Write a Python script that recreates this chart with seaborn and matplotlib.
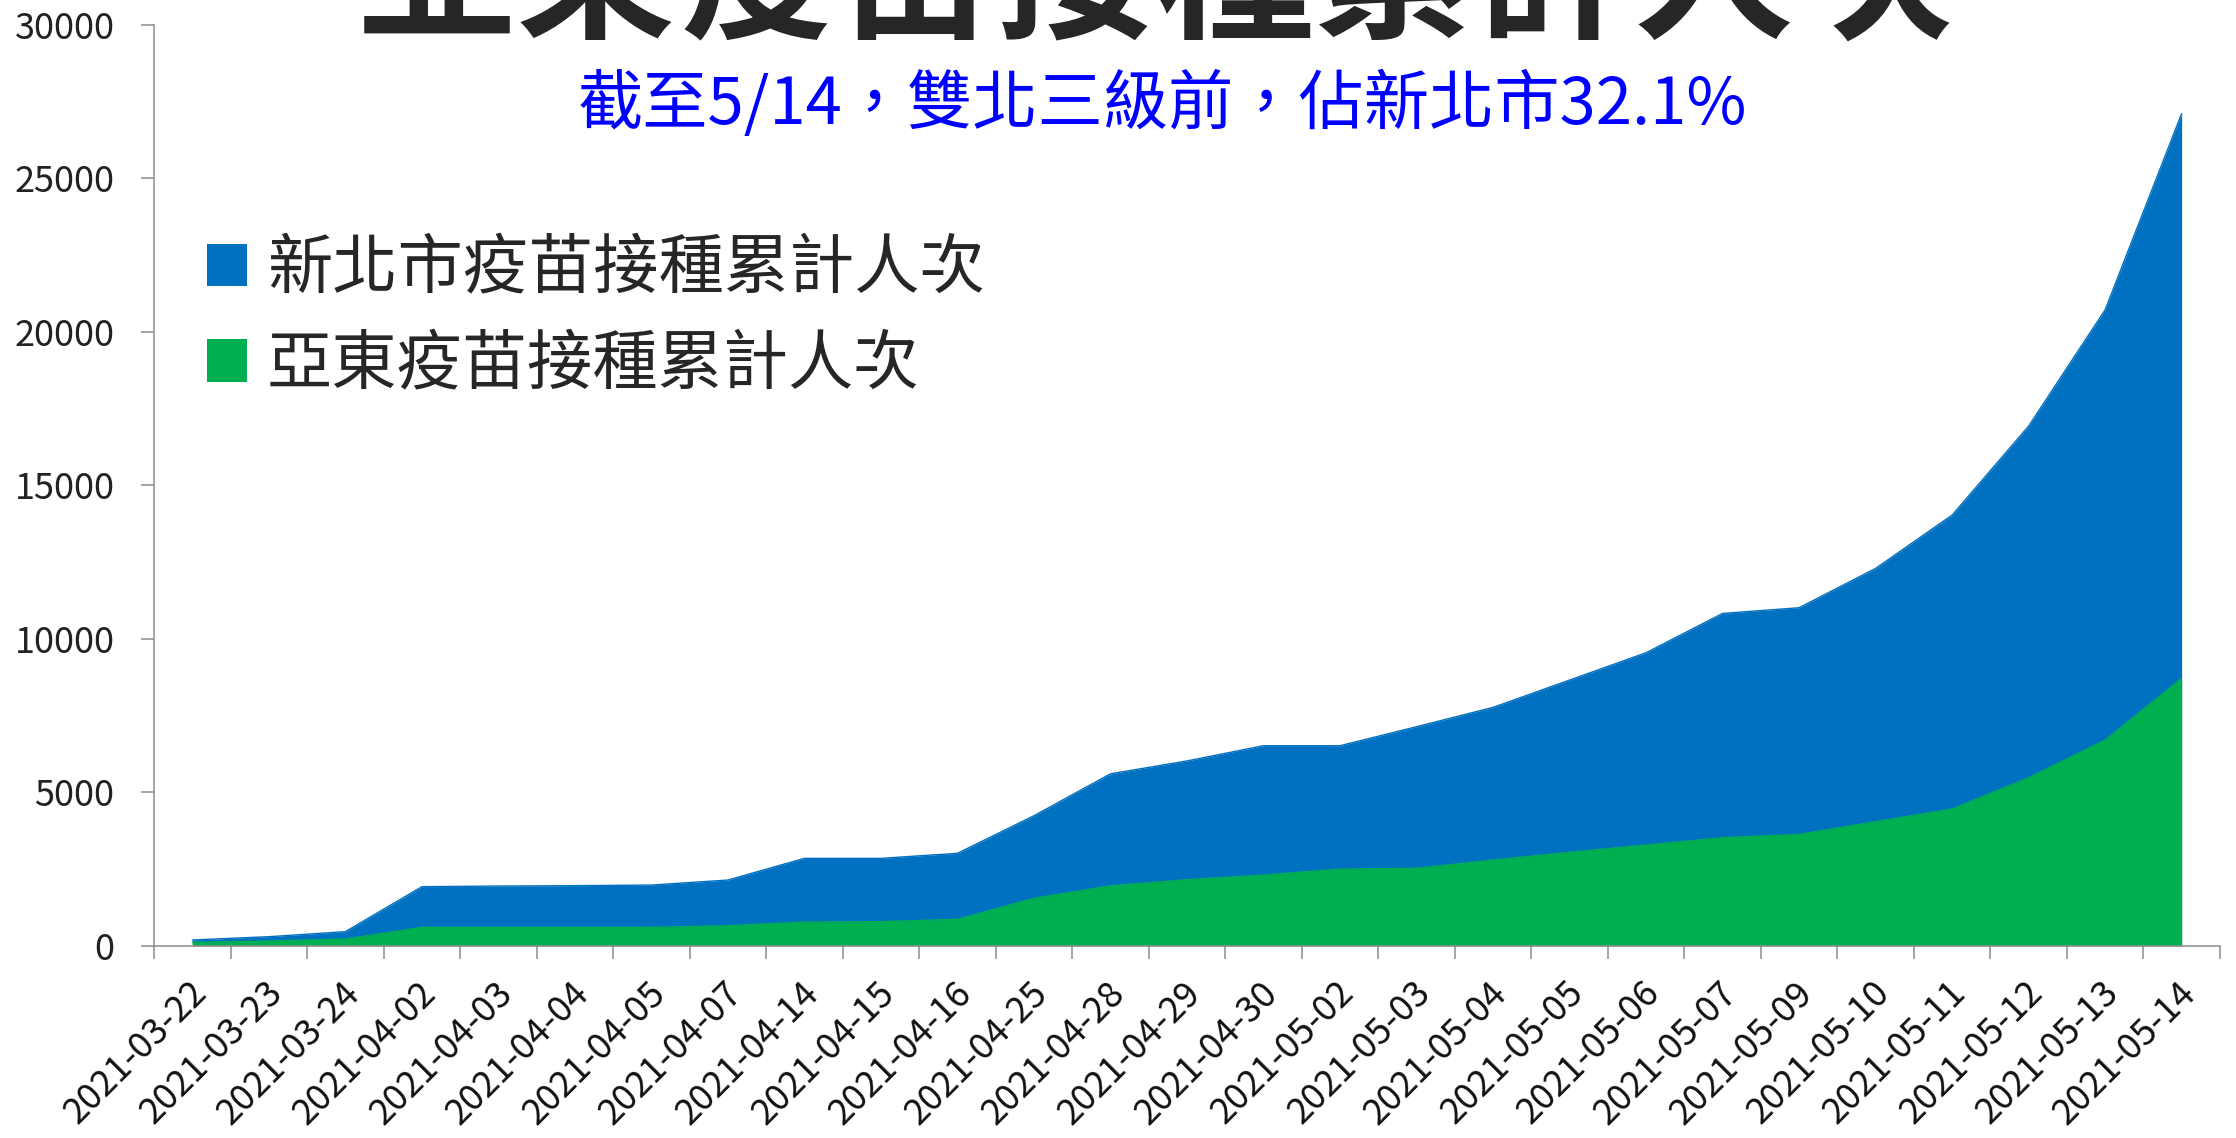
import numpy as np
import pandas as pd
import matplotlib.pyplot as plt
import seaborn as sns
from matplotlib.patches import Patch
from matplotlib.transforms import ScaledTranslation

# data
dates = ['2021-03-22', '2021-03-23', '2021-03-24', '2021-04-02', '2021-04-03',
         '2021-04-04', '2021-04-05', '2021-04-07', '2021-04-14', '2021-04-15',
         '2021-04-16', '2021-04-25', '2021-04-28', '2021-04-29', '2021-04-30',
         '2021-05-02', '2021-05-03', '2021-05-04', '2021-05-05', '2021-05-06',
         '2021-05-07', '2021-05-09', '2021-05-10', '2021-05-11', '2021-05-12',
         '2021-05-13', '2021-05-14']
ntpc_total = [185, 293, 456, 1922, 1944, 1955, 1976, 2139, 2845, 2845,
              3010, 4235, 5600, 6020, 6516, 6516, 7135, 7765, 8655, 9546,
              10827, 11012, 12294, 14031, 16930, 20720, 27114]
fe_total = [109, 152, 217, 597, 597, 597, 597, 650, 771, 782,
            860, 1544, 1950, 2150, 2300, 2498, 2520, 2791, 3041, 3280,
            3519, 3627, 4040, 4453, 5473, 6701, 8710]

ntpc_label = '新北市疫苗接種累計人次'
fe_label = '亞東疫苗接種累計人次'
title = '亞東疫苗接種累計人次'
subtitle = '截至5/14，雙北三級前，佔新北市32.1%'

df = pd.DataFrame({'date': dates, 'pos': np.arange(len(dates)),
                   'ntpc': ntpc_total, 'fe': fe_total})

sns.set_theme(style='white')
plt.rcParams['font.family'] = ['Noto Sans CJK TC', 'DejaVu Sans']

blue = '#0070C0'
green = '#00B050'
axis_gray = '#8C8C8C'

fig = plt.figure(figsize=(22.36, 11.38), dpi=100)
ax = fig.add_axes([0.0689, 0.169, 0.9239, 0.809])

# overlapping areas: Far Eastern is a part of the New Taipei total
ax.fill_between(df['pos'], 0, df['ntpc'], color=blue, lw=0)
ax.fill_between(df['pos'], 0, df['fe'], color=green, lw=0)
sns.lineplot(data=df, x='pos', y='ntpc', color=blue, lw=1, ax=ax)
sns.lineplot(data=df, x='pos', y='fe', color=green, lw=1, ax=ax)
ax.set_xlabel('')
ax.set_ylabel('')

ax.set_xlim(-0.5, len(dates) - 0.5)
ax.set_ylim(0, 30000)
ax.set_yticks(range(0, 30001, 5000))
ax.set_xticks(df['pos'])
ax.set_xticklabels(dates, rotation=45, ha='right', va='top',
                   rotation_mode='anchor', fontsize=26, color='#111111')
ax.set_xticks(np.arange(-0.5, len(dates), 1), minor=True)
ax.tick_params(axis='x', which='major', length=0, pad=21)
ax.tick_params(axis='x', which='minor', bottom=True, length=9.5, width=1.1,
               color=axis_gray, direction='out')
ax.tick_params(axis='y', left=True, length=9.5, width=1.1, color=axis_gray,
               direction='out', pad=19, labelsize=26, labelcolor='#222222')
shift = ScaledTranslation(-3 / 72, 0, fig.dpi_scale_trans)
for lab in ax.get_xticklabels():
    lab.set_transform(lab.get_transform() + shift)

for side in ['top', 'right']:
    ax.spines[side].set_visible(False)
for side in ['left', 'bottom']:
    ax.spines[side].set_color(axis_gray)
    ax.spines[side].set_linewidth(1.1)

handles = [Patch(facecolor=blue, edgecolor='none', label=ntpc_label),
           Patch(facecolor=green, edgecolor='none', label=fe_label)]
ax.legend(handles=handles, loc='upper left', bbox_to_anchor=(0.0924, 0.7925),
          bbox_transform=fig.transFigure, frameon=False, fontsize=47,
          handlelength=0.62, handleheight=0.62, handletextpad=0.3,
          labelspacing=0.45, borderpad=0, borderaxespad=0)

fig.text(0.5166, 0.977, title, fontsize=115, fontweight='bold',
         color='#262626', ha='center', va='baseline')
fig.text(0.520, 0.907, subtitle, fontsize=47, color='#0000FF',
         ha='center', va='center')

fig.savefig('out.png', dpi=100)
